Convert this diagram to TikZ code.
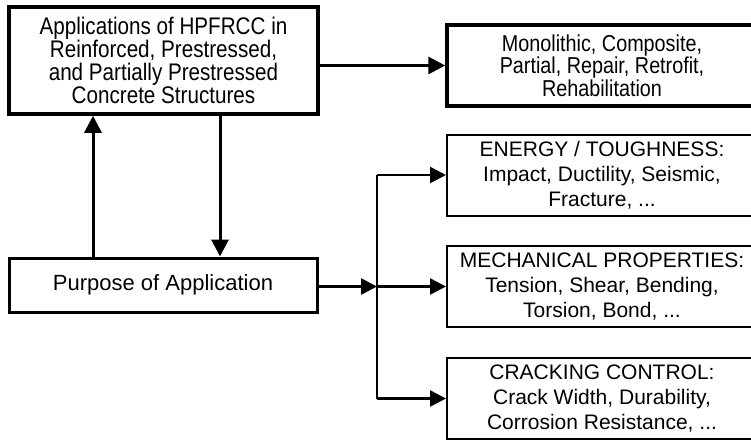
\documentclass[tikz,border=0pt]{standalone}
\usepackage{fontspec}
\setmainfont{Liberation Sans}
\newfontfamily\narrowfont{Liberation Sans}[FakeStretch=0.86]
\usetikzlibrary{arrows.meta}
\begin{document}
\begin{tikzpicture}[x=1pt, y=-1pt,
  every node/.style={align=center, inner sep=0pt},
  bigbox/.style={draw, line width=3.5pt, minimum width=309pt, minimum height=107pt,
    font=\narrowfont\fontsize{24}{22.8}\selectfont},
  usebox/.style={draw, line width=3.5pt, minimum width=310pt, minimum height=81pt,
    font=\narrowfont\fontsize{23}{22.5}\selectfont},
  purposebox/.style={draw, line width=3pt, minimum width=308pt, minimum height=54pt,
    font=\fontsize{22}{24}\selectfont},
  aimbox/.style={draw, line width=2pt, minimum width=310pt, minimum height=81pt,
    font=\fontsize{21}{25}\selectfont},
  mainarrow/.style={line width=3pt, -{Triangle[length=17pt,width=17pt]}},
  brancharrow/.style={line width=2.5pt, -{Triangle[length=16pt,width=16pt]}}]
  \useasboundingbox (0,0) rectangle (751,442);
  % Boxes
  \node[bigbox] (apps) at (163.5,60.5)
    {Applications of HPFRCC in\\Reinforced, Prestressed,\\and Partially Prestressed\\Concrete Structures};
  \node[usebox] (uses) at (602,65.5)
    {Monolithic, Composite,\\Partial, Repair, Retrofit,\\Rehabilitation};
  \node[purposebox] (purpose) at (163,285) {Purpose of Application};
  \node[aimbox] (energy) at (602,175)
    {ENERGY / TOUGHNESS:\\Impact, Ductility, Seismic,\\Fracture, ...};
  \node[aimbox] (mech) at (602,286.5)
    {MECHANICAL PROPERTIES:\\Tension, Shear, Bending,\\Torsion, Bond, ...};
  \node[aimbox] (crack) at (602,398.5)
    {CRACKING CONTROL:\\Crack Width, Durability,\\Corrosion Resistance, ...};
  % Split point
  \coordinate (split) at (377,286.5);
  % Connectors
  \draw[mainarrow] (apps.east |- uses.west) -- (uses.west);
  \draw[mainarrow] ([xshift=-70pt]purpose.north) -- ([xshift=-70pt]purpose.north |- apps.south);
  \draw[mainarrow] ([xshift=57pt]apps.south -| purpose.north) -- ([xshift=57pt]purpose.north);
  \draw[brancharrow] (purpose.east |- split) -- (split);
  \draw[line width=2.5pt] (split |- energy.west) -- (split |- crack.west);
  \draw[brancharrow] (split |- energy.west) -- (energy.west);
  \draw[brancharrow] (split) -- (mech.west);
  \draw[brancharrow] (split |- crack.west) -- (crack.west);
\end{tikzpicture}
\end{document}
